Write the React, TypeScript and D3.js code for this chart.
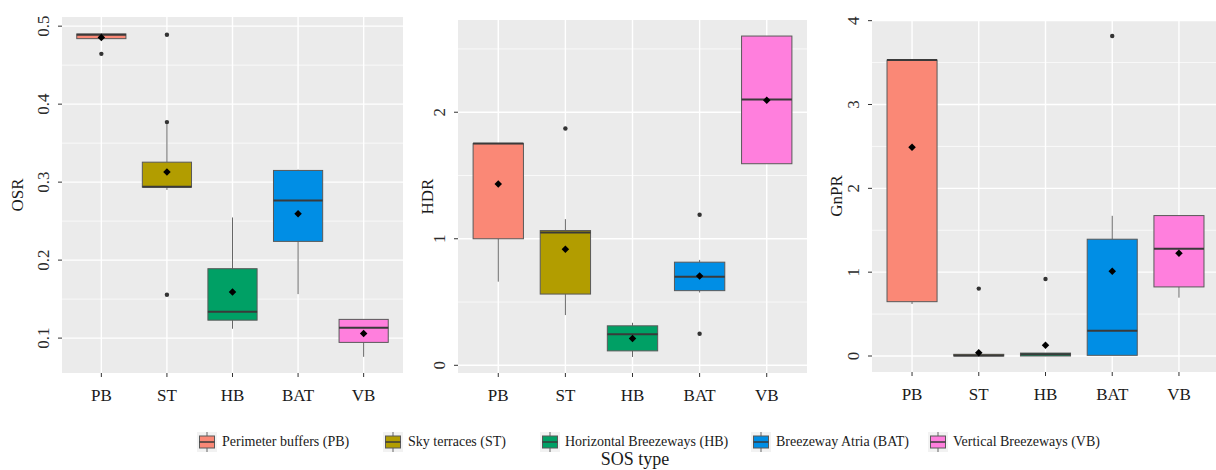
import React from 'react';
import * as d3 from 'd3';

const categories = ['PB', 'ST', 'HB', 'BAT', 'VB'];
const legendLabels = [
  'Perimeter buffers (PB)',
  'Sky terraces (ST)',
  'Horizontal Breezeways (HB)',
  'Breezeway Atria (BAT)',
  'Vertical Breezeways (VB)',
];
const fills = ['#FA8876', '#B29D00', '#00A065', '#008EE5', '#FF7FDD'];

// OSR
const osrLower = [0.484, 0.29, 0.112, 0.1564, 0.076];
const osrQ1 = [0.484, 0.2936, 0.123, 0.224, 0.0945];
const osrMedian = [0.489, 0.294, 0.1337, 0.2765, 0.1132];
const osrQ3 = [0.49, 0.3256, 0.189, 0.315, 0.124];
const osrUpper = [0.491, 0.3744, 0.2547, 0.316, 0.124];
const osrMean = [0.4855, 0.313, 0.159, 0.2594, 0.106];
const osrOutliers = [[0.4645], [0.489, 0.377, 0.1555], [], [], []];
const osrTicks = [0.1, 0.2, 0.3, 0.4, 0.5];
const osrMinor = [0.15, 0.25, 0.35, 0.45];

// HDR
const hdrLower = [0.661, 0.397, 0.066, 0.575, 1.593];
const hdrQ1 = [1.0, 0.563, 0.114, 0.59, 1.593];
const hdrMedian = [1.752, 1.049, 0.246, 0.7, 2.1];
const hdrQ3 = [1.752, 1.065, 0.312, 0.815, 2.602];
const hdrUpper = [1.752, 1.155, 0.336, 0.833, 2.602];
const hdrMean = [1.433, 0.918, 0.212, 0.705, 2.095];
const hdrOutliers = [[], [1.871], [], [1.19, 0.249], []];
const hdrTicks = [0, 1, 2];
const hdrMinor = [0.5, 1.5, 2.5];

// GnPR
const gnprLower = [0.62, 0, 0, 0.008, 0.696];
const gnprQ1 = [0.648, 0, 0, 0.008, 0.824];
const gnprMedian = [3.53, 0.005, 0.02, 0.302, 1.278];
const gnprQ3 = [3.53, 0.02, 0.035, 1.393, 1.675];
const gnprUpper = [3.53, 0.02, 0.035, 1.672, 1.675];
const gnprMean = [2.49, 0.04, 0.128, 1.011, 1.226];
const gnprOutliers = [[], [0.804], [0.919], [3.817], []];
const gnprTicks = [0, 1, 2, 3, 4];
const gnprMinor = [0.5, 1.5, 2.5, 3.5];

const FONT = '"Liberation Serif", "DejaVu Serif", serif';

type Stats = {
  lower: number[]; q1: number[]; median: number[]; q3: number[];
  upper: number[]; mean: number[]; outliers: number[][];
};

function Panel(props: {
  title: string; stats: Stats; ticks: number[]; minor: number[];
  fmt: (v: number) => string;
  left: number; right: number; top: number; bottom: number; titleX: number;
}) {
  const { title, stats, ticks, minor, fmt, left, right, top, bottom, titleX } = props;
  const all = [...stats.lower, ...stats.upper, ...stats.outliers.flat()];
  const lo = d3.min(all)!, hi = d3.max(all)!;
  const pad = (hi - lo) * 0.05;
  const y = d3.scaleLinear().domain([lo - pad, hi + pad]).range([bottom, top]);
  const x = d3.scalePoint<string>().domain(categories).range([left, right]).padding(0.6);
  const bw = x.step() * 0.75;
  const diamond = d3.symbol().type(d3.symbolDiamond2).size(36)()!;

  return (
    <g>
      <rect x={left} y={top} width={right - left} height={bottom - top} fill="#EBEBEB" />
      {minor.map((t) => (
        <line key={'m' + t} x1={left} x2={right} y1={y(t)} y2={y(t)} stroke="#fff" strokeWidth={0.7} />
      ))}
      {ticks.map((t) => (
        <line key={'g' + t} x1={left} x2={right} y1={y(t)} y2={y(t)} stroke="#fff" strokeWidth={1.4} />
      ))}
      {categories.map((c) => (
        <line key={'v' + c} x1={x(c)} x2={x(c)} y1={top} y2={bottom} stroke="#fff" strokeWidth={1.4} />
      ))}
      {categories.map((c, i) => {
        const cx = x(c)!;
        return (
          <g key={c}>
            <line x1={cx} x2={cx} y1={y(stats.upper[i])} y2={y(stats.q3[i])} stroke="#666" strokeWidth={1} />
            <line x1={cx} x2={cx} y1={y(stats.q1[i])} y2={y(stats.lower[i])} stroke="#666" strokeWidth={1} />
            <rect x={cx - bw / 2} y={y(stats.q3[i])} width={bw}
              height={Math.max(y(stats.q1[i]) - y(stats.q3[i]), 0.5)}
              fill={fills[i]} stroke="#595959" strokeWidth={1} />
            <line x1={cx - bw / 2} x2={cx + bw / 2} y1={y(stats.median[i])} y2={y(stats.median[i])}
              stroke="#3a3a3a" strokeWidth={2} />
            {stats.outliers[i].map((o, j) => (
              <circle key={j} cx={cx} cy={y(o)} r={2.2} fill="#333" />
            ))}
            <path d={diamond} transform={`translate(${cx},${y(stats.mean[i])})`} fill="#000" />
          </g>
        );
      })}
      {ticks.map((t) => (
        <g key={'t' + t}>
          <line x1={left - 4} x2={left} y1={y(t)} y2={y(t)} stroke="#333" strokeWidth={1} />
          <text transform={`translate(${left - 13},${y(t)}) rotate(-90)`} textAnchor="middle"
            fontFamily={FONT} fontSize={17} fill="#2b2b2b">{fmt(t)}</text>
        </g>
      ))}
      {categories.map((c) => (
        <g key={'x' + c}>
          <line x1={x(c)} x2={x(c)} y1={bottom} y2={bottom + 4} stroke="#333" strokeWidth={1} />
          <text x={x(c)} y={bottom + 28} textAnchor="middle" fontFamily={FONT} fontSize={17} fill="#1a1a1a">{c}</text>
        </g>
      ))}
      <text transform={`translate(${titleX},${(top + bottom) / 2}) rotate(-90)`} textAnchor="middle"
        fontFamily={FONT} fontSize={17} fill="#1a1a1a">{title}</text>
    </g>
  );
}

const legendX = [197, 383, 540, 751, 928];

export default function App() {
  const f1 = d3.format('.1f');
  const f0 = d3.format('d');
  return (
    <svg width={1216} height={470} style={{ position: 'absolute', left: 0, top: 0, background: '#fff' }}>
      <Panel title="OSR" fmt={f1} ticks={osrTicks} minor={osrMinor}
        stats={{ lower: osrLower, q1: osrQ1, median: osrMedian, q3: osrQ3, upper: osrUpper, mean: osrMean, outliers: osrOutliers }}
        left={62} right={403} top={17} bottom={373} titleX={23} />
      <Panel title="HDR" fmt={f0} ticks={hdrTicks} minor={hdrMinor}
        stats={{ lower: hdrLower, q1: hdrQ1, median: hdrMedian, q3: hdrQ3, upper: hdrUpper, mean: hdrMean, outliers: hdrOutliers }}
        left={458} right={807} top={20} bottom={373} titleX={433} />
      <Panel title="GnPR" fmt={f0} ticks={gnprTicks} minor={gnprMinor}
        stats={{ lower: gnprLower, q1: gnprQ1, median: gnprMedian, q3: gnprQ3, upper: gnprUpper, mean: gnprMean, outliers: gnprOutliers }}
        left={872} right={1219} top={20} bottom={372} titleX={842} />
      {legendLabels.map((l, i) => {
        const kx = legendX[i];
        return (
          <g key={l}>
            <rect x={kx} y={432} width={20} height={20} fill="#F2F2F2" />
            <line x1={kx + 10} x2={kx + 10} y1={432} y2={452} stroke="#666" strokeWidth={1} />
            <rect x={kx + 2.5} y={436} width={15} height={12} fill={fills[i]} stroke="#595959" strokeWidth={1} />
            <line x1={kx + 2.5} x2={kx + 17.5} y1={442} y2={442} stroke="#3a3a3a" strokeWidth={1.5} />
            <text x={kx + 25} y={446} fontFamily={FONT} fontSize={14} fill="#1a1a1a">{l}</text>
          </g>
        );
      })}
      <text x={635} y={465} textAnchor="middle" fontFamily={FONT} fontSize={18} fill="#1a1a1a">SOS type</text>
    </svg>
  );
}
